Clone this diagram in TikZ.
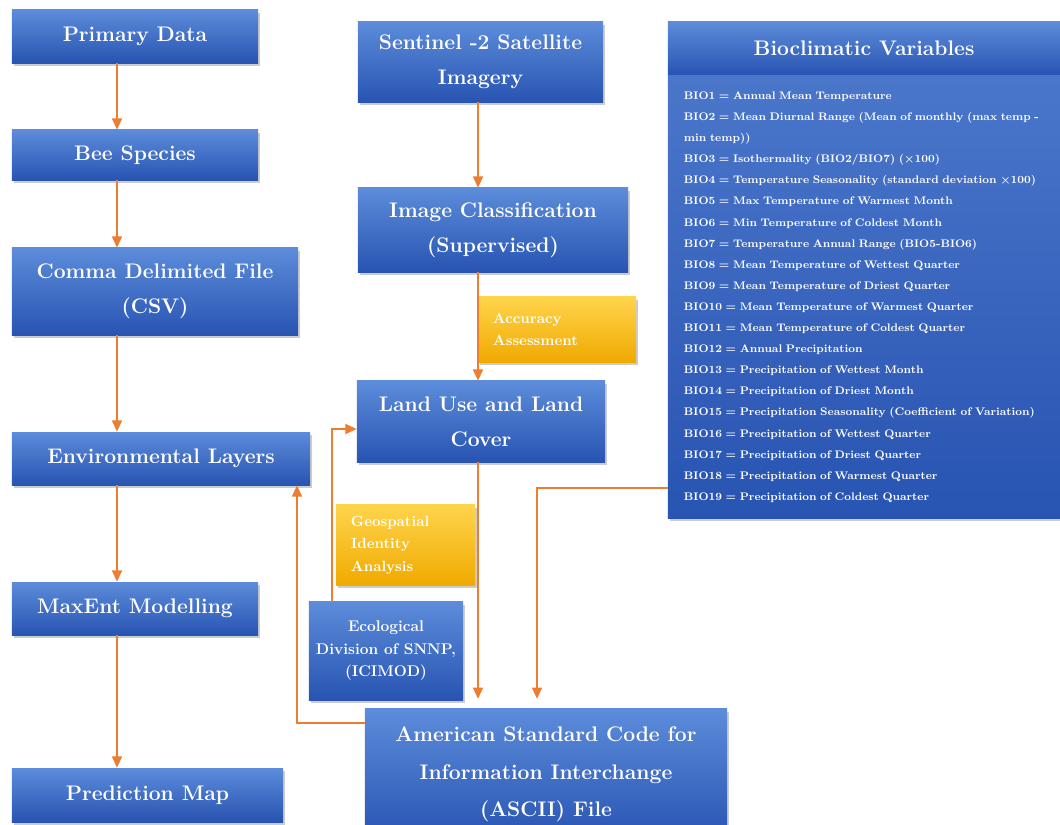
\documentclass[tikz,border=0pt]{standalone}
\usepackage{fontspec}
\usetikzlibrary{arrows.meta,shadows,positioning}
\definecolor{boxtop}{RGB}{92,140,218}
\definecolor{boxbot}{RGB}{40,84,178}
\definecolor{listtop}{RGB}{74,118,202}
\definecolor{goldtop}{RGB}{255,212,76}
\definecolor{goldbot}{RGB}{240,170,0}
\definecolor{linkorange}{RGB}{237,125,49}

\begin{document}
\begin{tikzpicture}[x=0.025cm, y=-0.025cm,
      blockbox/.style = {shape=rectangle, align=center, text=white,
        top color=boxtop, bottom color=boxbot, inner sep=2pt,
        font=\fontsize{15}{25}\selectfont\bfseries,
        drop shadow={opacity=0.4, shadow xshift=0.06cm, shadow yshift=-0.07cm}},
      notebox/.style = {blockbox, top color=goldtop, bottom color=goldbot,
        align=left, inner xsep=0.375cm,
        font=\fontsize{10.5}{16}\selectfont\bfseries},
      link/.style = {draw=linkorange, line width=1.4pt,
        -{Triangle[length=8pt,width=7pt]}}]
      \useasboundingbox (0,0) rectangle (1060,824);

      \node[blockbox, minimum width=6.15cm, minimum height=1.325cm] (primary) at (135,36.5) {Primary Data};
      \node[blockbox, minimum width=6.15cm, minimum height=1.25cm] (bee) at (135,155) {Bee Species};
      \node[blockbox, minimum width=7.15cm, minimum height=2.175cm] (csv) at (155,291.5) {Comma Delimited File\\(CSV)};
      \node[blockbox, minimum width=7.45cm, minimum height=1.325cm] (env) at (161,458.5) {Environmental Layers};
      \node[blockbox, minimum width=6.15cm, minimum height=1.325cm] (maxent) at (135,608.5) {MaxEnt Modelling};
      \node[blockbox, minimum width=6.775cm, minimum height=1.35cm] (pred) at (147.5,795) {Prediction Map};

      \node[blockbox, minimum width=6.125cm, minimum height=2cm] (sentinel) at (480.5,62) {Sentinel -2 Satellite\\Imagery};
      \node[blockbox, minimum width=6.75cm, minimum height=2.1cm] (imgclass) at (493,230) {Image Classification\\(Supervised)};
      \node[notebox, text width=3.2cm, minimum height=1.625cm] (accuracy) at (557,329.5) {Accuracy\\Assessment};
      \node[blockbox, minimum width=6.2cm, minimum height=2.025cm] (lulc) at (481,421.5) {Land Use and Land\\Cover};
      \node[notebox, text width=2.725cm, minimum height=2cm] (geo) at (405.5,545) {Geospatial\\Identity\\Analysis};
      \node[blockbox, minimum width=3.85cm, minimum height=2.45cm,
        font=\fontsize{11}{16}\selectfont\bfseries] (eco) at (386,651) {Ecological\\Division of SNNP,\\(ICIMOD)};
      \node[blockbox, minimum width=9.05cm, minimum height=3.275cm,
        font=\fontsize{15}{26.5}\selectfont\bfseries] (ascii) at (546,774.5) {American Standard Code for\\Information Interchange\\(ASCII) File};

      \node[blockbox, minimum width=9.8cm, minimum height=1.325cm] (biotitle) at (864,48.5) {Bioclimatic Variables};
      \node[blockbox, below=0pt of biotitle, top color=listtop, bottom color=boxbot,
        align=left, text width=9cm, inner xsep=0.4cm, minimum height=11.075cm,
        font=\fontsize{7.8}{15}\selectfont\bfseries] (biolist) {BIO1 = Annual Mean Temperature\\
        BIO2 = Mean Diurnal Range (Mean of monthly (max temp -\\
        min temp))\\
        BIO3 = Isothermality (BIO2/BIO7) (×100)\\
        BIO4 = Temperature Seasonality (standard deviation ×100)\\
        BIO5 = Max Temperature of Warmest Month\\
        BIO6 = Min Temperature of Coldest Month\\
        BIO7 = Temperature Annual Range (BIO5-BIO6)\\
        BIO8 = Mean Temperature of Wettest Quarter\\
        BIO9 = Mean Temperature of Driest Quarter\\
        BIO10 = Mean Temperature of Warmest Quarter\\
        BIO11 = Mean Temperature of Coldest Quarter\\
        BIO12 = Annual Precipitation\\
        BIO13 = Precipitation of Wettest Month\\
        BIO14 = Precipitation of Driest Month\\
        BIO15 = Precipitation Seasonality (Coefficient of Variation)\\
        BIO16 = Precipitation of Wettest Quarter\\
        BIO17 = Precipitation of Driest Quarter\\
        BIO18 = Precipitation of Warmest Quarter\\
        BIO19 = Precipitation of Coldest Quarter};

      \coordinate (lx) at (117,0);
      \coordinate (mx) at (478,0);
      \coordinate (bx) at (537,488);
      \coordinate (ex) at (332,429);
      \coordinate (ax) at (297,723);
      \draw[link] (primary.south -| lx) -- (bee.north -| lx);
      \draw[link] (bee.south -| lx) -- (csv.north -| lx);
      \draw[link] (csv.south -| lx) -- (env.north -| lx);
      \draw[link] (env.south -| lx) -- (maxent.north -| lx);
      \draw[link] (maxent.south -| lx) -- (pred.north -| lx);
      \draw[link] (sentinel.south -| mx) -- (imgclass.north -| mx);
      \draw[link] (imgclass.south -| mx) -- (lulc.north -| mx);
      \draw[link, shorten >=7pt] (lulc.south -| mx) -- (ascii.north -| mx);
      \draw[link, shorten >=7pt] (biolist.west |- bx) -| (ascii.north -| bx);
      \draw[link] (eco.north -| ex) |- (lulc.west |- ex);
      \draw[link] (ascii.west |- ax) -| (env.south -| ax);
\end{tikzpicture}
\end{document}
